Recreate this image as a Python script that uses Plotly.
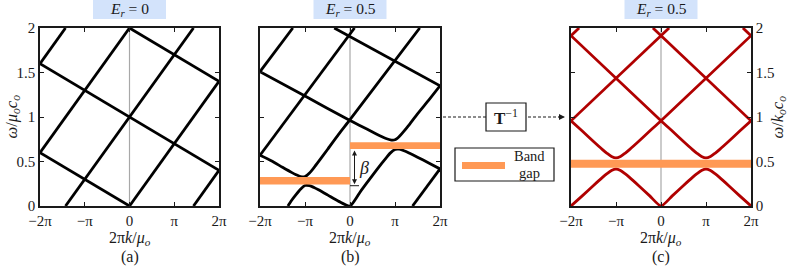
import plotly.graph_objects as go

# ---------------- data (k in units of pi, omega normalised) ----------------
tick_vals = [-2, -1, 0, 1, 2]
tick_text = ["\u22122\u03c0", "\u2212\u03c0", "0", "\u03c0", "2\u03c0"]
y_tick_vals = [0, 0.5, 1, 1.5, 2]
y_tick_text = ["0", "0.5", "1", "1.5", "2"]

# panel (a): E_r = 0, straight bands
a_lines_x = [[1.43, 2], [0, 2], [-1.43, 1.43], [-2, 0], [-2, -1.43],
             [-2, 0], [-2, 2], [0, 2]]
a_lines_y = [[0, 0.4], [0, 1.4], [0, 2], [0.6, 2], [1.6, 2],
             [0.6, 0], [1.6, 0.4], [2, 1.4]]

# panel (b): E_r = 0.5
b1_x = [-2, -1.27]
b1_y = [1.51, 2.0]
b2_x = [-2, -1, 0, 0.25, 0.5, 0.7, 0.8, 0.92, 0.95, 1.0, 1.05, 1.1, 1.2, 1.3, 1.5, 1.75, 2]
b2_y = [1.51, 1.235, 0.96, 0.897, 0.831, 0.781, 0.759, 0.741, 0.740, 0.745, 0.760, 0.783,
        0.841, 0.904, 1.036, 1.19, 1.35]
b3_x = [-2, -1.75, -1.5, -1.3, -1.2, -1.1, -1.0, -0.9, -0.8, -0.7, -0.5, -0.25, 0, 1.55]
b3_y = [0.57, 0.508, 0.435, 0.378, 0.352, 0.331, 0.33, 0.371, 0.432, 0.498, 0.635, 0.808, 0.97, 2.0]
b4_x = [-1.38, -1.3, -1.2, -1.1, -1.0, -0.9, -0.8, -0.7, -0.5, -0.25, 0, 0.25, 0.5, 0.7,
        0.8, 0.9, 1.0, 1.05, 1.1, 1.2, 1.3, 1.5, 1.75, 2]
b4_y = [0.0, 0.062, 0.128, 0.189, 0.23, 0.229, 0.208, 0.182, 0.125, 0.052, 0.0, 0.176, 0.344,
        0.476, 0.539, 0.597, 0.635, 0.640, 0.638, 0.621, 0.599, 0.549, 0.483, 0.417]
b5_x = [1.39, 2]
b5_y = [0.0, 0.417]
b6_x = [-2, 0.1]
b6_y = [0.57, 2.0]
b7_x = [-0.35, 2]
b7_y = [2.0, 1.35]
b_curves_x = [b1_x, b2_x, b3_x, b4_x, b5_x, b6_x, b7_x]
b_curves_y = [b1_y, b2_y, b3_y, b4_y, b5_y, b6_y, b7_y]

# band gaps in (b): [x0, x1, y0, y1]
b_gap_left = [-2, 0, 0.242, 0.325]
b_gap_right = [0, 2, 0.64, 0.716]
beta_bottom = 0.228
beta_top = 0.625

# panel (c): transformed bands
c1_x = [-2, -1.75, -1.5, -1.3, -1.2, -1.1, -1.0, -0.9, -0.8, -0.7, -0.5, -0.25, 0, 2]
c1_y = [0.957, 0.842, 0.725, 0.634, 0.592, 0.556, 0.54, 0.556, 0.592, 0.634, 0.725, 0.842, 0.957, 1.914]
c2_x = [-2, 0, 0.25, 0.5, 0.7, 0.8, 0.9, 1.0, 1.1, 1.2, 1.3, 1.5, 1.75, 2]
c2_y = [1.914, 0.957, 0.842, 0.725, 0.634, 0.592, 0.556, 0.54, 0.556, 0.592, 0.634, 0.725, 0.842, 0.957]
c3_x = [-2, -1.75, -1.5, -1.3, -1.2, -1.1, -1.0, -0.9, -0.8, -0.7, -0.5, -0.25, 0,
        0.25, 0.5, 0.7, 0.8, 0.9, 1.0, 1.1, 1.2, 1.3, 1.5, 1.75, 2]
c3_y = [0, 0.114, 0.231, 0.322, 0.364, 0.400, 0.416, 0.400, 0.364, 0.322, 0.231, 0.114, 0,
        0.114, 0.231, 0.322, 0.364, 0.400, 0.416, 0.400, 0.364, 0.322, 0.231, 0.114, 0]
c4_x = [-2, 0.18]
c4_y = [0.957, 2.0]
c5_x = [-0.18, 2]
c5_y = [2.0, 0.957]
c6_x = [-2, -1.82]
c6_y = [1.914, 2.0]
c7_x = [1.82, 2]
c7_y = [2.0, 1.914]
c_curves_x = [c1_x, c2_x, c3_x, c4_x, c5_x, c6_x, c7_x]
c_curves_y = [c1_y, c2_y, c3_y, c4_y, c5_y, c6_y, c7_y]
c_gap = [-2, 2, 0.43, 0.52]

titles = ["<i>E<sub>r</sub></i> = 0", "<i>E<sub>r</sub></i> = 0.5", "<i>E<sub>r</sub></i> = 0.5"]
sub_labels = ["(a)", "(b)", "(c)"]

# ---------------- layout helpers ----------------
W, H = 789, 267
FONT = "Liberation Serif"
INK = "#1a1a1a"
ORANGE = "#ff9955"
RED = "#b00000"


def px(x):
    return x / W


def py(y):
    return 1 - y / H


plot_left = [40, 260, 571]
plot_right = [219, 440, 751]
plot_top, plot_bottom = 28, 206

fig = go.Figure()

for xs, ys in zip(a_lines_x, a_lines_y):
    fig.add_trace(go.Scatter(x=xs, y=ys, mode="lines", xaxis="x", yaxis="y",
                             line=dict(color="black", width=2.8), showlegend=False, hoverinfo="skip"))
for xs, ys in zip(b_curves_x, b_curves_y):
    fig.add_trace(go.Scatter(x=xs, y=ys, mode="lines", xaxis="x2", yaxis="y2",
                             line=dict(color="black", width=2.8, shape="spline", smoothing=0.6),
                             showlegend=False, hoverinfo="skip"))
for xs, ys in zip(c_curves_x, c_curves_y):
    fig.add_trace(go.Scatter(x=xs, y=ys, mode="lines", xaxis="x3", yaxis="y3",
                             line=dict(color=RED, width=2.8, shape="spline", smoothing=0.6),
                             showlegend=False, hoverinfo="skip"))

axis_common = dict(showline=True, linecolor=INK, linewidth=1.5, mirror="ticks",
                   ticks="inside", ticklen=4, tickwidth=1, tickcolor=INK,
                   showgrid=False, zeroline=False, automargin=False,
                   tickfont=dict(family=FONT, size=15, color=INK))
ydom = [py(plot_bottom), py(plot_top)]
layout = dict(width=W, height=H, margin=dict(l=0, r=0, t=0, b=0, pad=0, autoexpand=False),
              paper_bgcolor="white", plot_bgcolor="white", showlegend=False)
for i in range(3):
    sfx = "" if i == 0 else str(i + 1)
    layout["xaxis" + sfx] = dict(axis_common, domain=[px(plot_left[i]), px(plot_right[i])],
                                  range=[-2, 2], tickvals=tick_vals, ticktext=tick_text,
                                  anchor="y" + sfx)
    yax = dict(axis_common, domain=ydom, range=[0, 2], tickvals=y_tick_vals,
               ticktext=y_tick_text, anchor="x" + sfx)
    if i == 1:
        yax["showticklabels"] = False
    if i == 2:
        yax["side"] = "right"
    layout["yaxis" + sfx] = yax
fig.update_layout(**layout)

shapes = []
ann = []


def text_ann(x, y, text, size=16, **kw):
    d = dict(xref="paper", yref="paper", x=x, y=y, text=text, showarrow=False,
             xanchor="center", yanchor="middle", font=dict(family=FONT, size=size, color=INK))
    d.update(kw)
    return d


# vertical gray zero lines
for i in range(3):
    sfx = "" if i == 0 else str(i + 1)
    shapes.append(dict(type="line", xref="x" + sfx, yref="y" + sfx, x0=0, x1=0, y0=0, y1=2,
                       line=dict(color="#a8a8a8", width=1.2), layer="below"))

# band gaps
for (x0, x1, y0, y1), sfx in [(b_gap_left, "2"), (b_gap_right, "2"), (c_gap, "3")]:
    shapes.append(dict(type="rect", xref="x" + sfx, yref="y" + sfx, x0=x0, x1=x1, y0=y0, y1=y1,
                       fillcolor=ORANGE, line=dict(width=0), layer="above"))

# beta marker
shapes.append(dict(type="line", xref="x2", yref="y2", x0=0, x1=0.2, y0=beta_bottom, y1=beta_bottom,
                   line=dict(color=INK, width=1)))
ann.append(dict(xref="x2", yref="y2", x=0.1, y=beta_top, ax=0.1, ay=beta_bottom,
                axref="x2", ayref="y2", showarrow=True, arrowside="end+start",
                arrowhead=2, arrowsize=1, arrowwidth=1, arrowcolor=INK, text=""))
ann.append(dict(xref="x2", yref="y2", x=0.3, y=0.43, text="<i>\u03b2</i>", showarrow=False,
                xanchor="center", yanchor="middle", font=dict(family=FONT, size=18, color=INK)))

# titles and labels
for i in range(3):
    cx = (plot_left[i] + plot_right[i]) / 2
    shapes.append(dict(type="rect", xref="paper", yref="paper", x0=px(cx - 36.5), x1=px(cx + 36.5),
                       y0=py(19), y1=1, fillcolor="#d3e3fb", line=dict(width=0), layer="below"))
    ann.append(text_ann(px(cx), py(10), titles[i], size=15.5))
    ann.append(text_ann(px(cx), py(238.5), "2\u03c0<i>k</i>/<i>\u03bc<sub>o</sub></i>", size=16))
    ann.append(text_ann(px(cx), py(256.5), sub_labels[i], size=16))

ann.append(text_ann(px(11.5), py(117), "<i>\u03c9</i>/<i>\u03bc<sub>o</sub>c<sub>o</sub></i>",
                    size=16.5, textangle=-90))
ann.append(text_ann(px(777.5), py(117), "<i>\u03c9</i>/<i>k<sub>o</sub>c<sub>o</sub></i>",
                    size=16.5, textangle=-90))

# dashed transform arrow and T^-1 box
shapes.append(dict(type="line", xref="paper", yref="paper", x0=px(443), x1=px(560),
                   y0=py(117), y1=py(117), line=dict(color=INK, width=1.2, dash="3px,2px")))
ann.append(dict(xref="paper", yref="paper", x=px(565), y=py(117), ax=-8, ay=0,
                showarrow=True, arrowhead=2, arrowsize=1, arrowwidth=1.2, arrowcolor=INK, text=""))
shapes.append(dict(type="rect", xref="paper", yref="paper", x0=px(486), x1=px(526),
                   y0=py(131), y1=py(103), fillcolor="white", line=dict(color=INK, width=1.2)))
ann.append(text_ann(px(506), py(117), "<b>T</b><sup>\u22121</sup>", size=17))

# legend box
shapes.append(dict(type="rect", xref="paper", yref="paper", x0=px(455), x1=px(554),
                   y0=py(181), y1=py(148), fillcolor="white", line=dict(color=INK, width=1.2)))
shapes.append(dict(type="line", xref="paper", yref="paper", x0=px(462), x1=px(505),
                   y0=py(165.5), y1=py(165.5), line=dict(color=ORANGE, width=7)))
ann.append(text_ann(px(529), py(156), "Band", size=14.5))
ann.append(text_ann(px(529), py(172.5), "gap", size=14.5))

fig.update_layout(shapes=shapes, annotations=ann)
fig.write_html("out.html", config={"displayModeBar": False},
               post_script="document.body.style.margin='0';")
